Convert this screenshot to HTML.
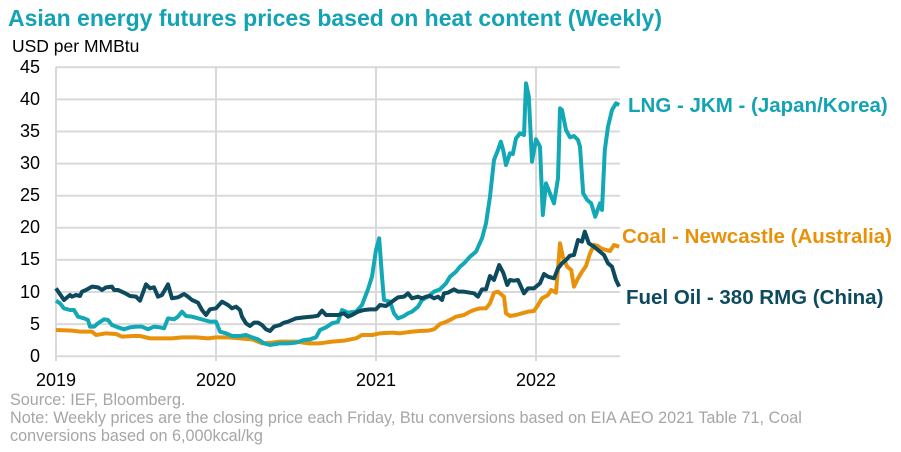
<!DOCTYPE html>
<html><head><meta charset="utf-8"><style>
body{margin:0;background:#fff;width:901px;height:447px;overflow:hidden;font-family:"Liberation Sans",Arial,sans-serif}
</style></head><body>
<svg width="901" height="447" xmlns="http://www.w3.org/2000/svg" font-family="Liberation Sans, Arial, sans-serif">
<text x="8" y="26" font-size="23" font-weight="bold" fill="#13a3b3">Asian energy futures prices based on heat content (Weekly)</text>
<text x="12" y="52" font-size="17.5" fill="#000">USD per MMBtu</text>
<g stroke="#d9d9d9" stroke-width="2">
<line x1="56" x2="620" y1="67.3" y2="67.3"/><line x1="56" x2="620" y1="99.4" y2="99.4"/><line x1="56" x2="620" y1="131.5" y2="131.5"/><line x1="56" x2="620" y1="163.6" y2="163.6"/><line x1="56" x2="620" y1="195.7" y2="195.7"/><line x1="56" x2="620" y1="227.8" y2="227.8"/><line x1="56" x2="620" y1="259.9" y2="259.9"/><line x1="56" x2="620" y1="292" y2="292"/><line x1="56" x2="620" y1="324.1" y2="324.1"/><line x1="56" x2="620" y1="356.2" y2="356.2"/>
<line x1="56" x2="56" y1="67" y2="361"/><line x1="216" x2="216" y1="67" y2="361"/><line x1="376" x2="376" y1="67" y2="361"/><line x1="536" x2="536" y1="67" y2="361"/>
</g>
<g font-size="18" fill="#000" text-anchor="end">
<text x="40" y="73">45</text><text x="40" y="105">40</text><text x="40" y="137">35</text><text x="40" y="169">30</text><text x="40" y="201">25</text><text x="40" y="233">20</text><text x="40" y="265">15</text><text x="40" y="298">10</text><text x="40" y="330">5</text><text x="40" y="362">0</text>
</g>
<g font-size="18" fill="#000" text-anchor="middle">
<text x="56" y="386">2019</text><text x="216" y="386">2020</text><text x="376" y="386">2021</text><text x="536" y="386">2022</text>
</g>
<g transform="translate(0,50) scale(0.4,0.33333)" fill="none" stroke-linejoin="round">
<polyline vector-effect="non-scaling-stroke" stroke="#e8920c" stroke-width="4" points="140,840 180,842 200,845 230,845 240,855 265,850 290,852 305,860 330,858 350,858 375,865 400,865 430,865 455,862 490,862 520,865 540,862 570,862 600,865 630,868 655,880 680,878 700,875 740,875 770,880 800,880 830,875 860,872 890,865 905,855 930,855 950,850 980,848 1000,850 1030,845 1050,843 1070,842 1085,838 1100,822 1110,818 1125,810 1140,800 1160,795 1175,785 1185,780 1200,775 1215,775 1225,760 1235,728 1245,725 1260,740 1265,790 1275,798 1290,795 1305,790 1320,785 1335,783 1345,765 1355,745 1370,735 1378,720 1390,728 1400,580 1408,625 1418,650 1428,660 1435,710 1445,685 1455,665 1465,648 1475,610 1485,585 1495,588 1502,595 1515,600 1525,603 1535,585 1548,590"/>
<polyline vector-effect="non-scaling-stroke" stroke="#13a8b5" stroke-width="4" points="140,752 150,760 160,775 175,780 185,780 195,800 210,805 220,810 225,830 235,830 245,820 260,808 270,810 280,825 295,832 310,838 325,832 340,830 355,830 370,838 385,830 400,832 410,835 420,805 435,808 445,800 455,785 465,798 480,800 495,805 510,810 525,815 540,815 550,845 565,850 580,858 600,858 615,855 630,862 645,868 660,880 675,885 700,880 720,880 740,878 760,870 775,868 790,862 800,840 815,832 830,820 845,815 855,780 870,788 890,785 905,765 920,718 930,680 940,600 948,565 955,680 960,750 975,755 985,790 995,805 1010,798 1020,790 1030,785 1045,770 1055,750 1070,740 1085,725 1100,718 1115,700 1125,680 1140,665 1150,650 1160,640 1175,620 1190,605 1205,565 1215,520 1225,440 1235,330 1245,300 1252,275 1258,300 1265,345 1275,310 1282,312 1290,265 1300,250 1310,255 1315,100 1322,140 1330,335 1340,268 1350,290 1357,495 1365,400 1375,430 1385,460 1395,385 1400,175 1405,180 1415,240 1425,262 1435,258 1445,270 1450,290 1458,430 1468,450 1478,460 1488,500 1500,460 1505,480 1512,300 1520,230 1530,180 1540,160 1548,165"/>
<polyline vector-effect="non-scaling-stroke" stroke="#0d4a5e" stroke-width="4" points="140,715 160,750 175,735 180,740 190,735 200,738 205,725 215,720 230,710 245,712 255,720 265,712 280,710 285,720 295,720 310,728 325,738 340,740 350,752 365,703 375,715 385,712 395,740 405,735 420,703 430,745 445,742 460,732 470,740 480,750 495,758 505,780 515,795 525,778 540,775 555,755 570,765 580,775 590,770 600,780 605,800 615,820 625,828 635,818 645,818 655,825 665,838 675,843 685,830 700,825 710,818 720,815 740,805 760,802 780,800 795,797 805,782 815,795 830,795 845,795 860,790 870,800 880,795 895,785 910,780 925,778 940,778 950,765 965,768 980,755 995,742 1010,740 1020,730 1030,745 1045,740 1055,745 1065,740 1075,738 1085,745 1095,740 1105,750 1110,730 1120,728 1135,718 1145,725 1160,725 1175,728 1185,730 1195,740 1205,718 1215,718 1225,678 1235,690 1248,645 1258,668 1268,705 1275,690 1285,692 1295,690 1310,730 1320,715 1335,715 1350,700 1360,672 1370,680 1385,685 1395,655 1405,640 1415,630 1425,617 1435,615 1445,570 1455,575 1462,545 1472,580 1485,590 1500,605 1510,615 1520,640 1530,650 1540,690 1548,710"/>
</g>
<g font-size="20.5" font-weight="bold">
<text x="628" y="112" fill="#13a3b3">LNG - JKM - (Japan/Korea)</text>
<text x="622" y="243" fill="#e8920c">Coal - Newcastle (Australia)</text>
<text x="626" y="304" fill="#0d4a5e">Fuel Oil - 380 RMG (China)</text>
</g>
<g font-size="16.2" fill="#a6a6a6">
<text x="10" y="405">Source: IEF, Bloomberg.</text>
<text x="10" y="423">Note: Weekly prices are the closing price each Friday, Btu conversions based on EIA AEO 2021 Table 71, Coal</text>
<text x="10" y="441">conversions based on 6,000kcal/kg</text>
</g>
</svg>
</body></html>
